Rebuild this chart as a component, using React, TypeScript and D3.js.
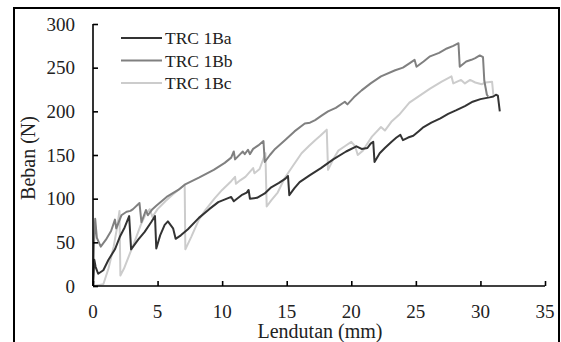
import React, { useRef, useEffect } from "react";
import * as d3 from "d3";

type Pt = [number, number];

// Lendutan (mm), Beban (N)
const trc1Ba: Pt[] = [
  [0, 0], [0.1, 30], [0.2, 22], [0.4, 14], [0.8, 18], [1.2, 30], [1.7, 42], [2.1, 57],
  [2.45, 67], [2.8, 80], [2.95, 42], [3.5, 53], [4.0, 62], [4.5, 73], [4.8, 80], [4.9, 43],
  [5.2, 58], [5.55, 70], [5.8, 74], [6.1, 68], [6.2, 66], [6.4, 54], [6.8, 58], [7.35, 65],
  [8.2, 78], [9.0, 88], [9.7, 96], [10.7, 102], [10.9, 97], [11.5, 104], [11.9, 107],
  [12.05, 110], [12.15, 100], [12.7, 101], [13.3, 106], [13.8, 113], [14.4, 118], [14.9, 123],
  [15.1, 126], [15.2, 104], [15.6, 112], [16.0, 119], [16.8, 127], [17.65, 135], [18.6, 145],
  [19.6, 154], [20.4, 160], [20.8, 157], [21.25, 158], [21.5, 163], [21.7, 165], [21.8, 142],
  [22.2, 152], [22.6, 158], [23.1, 165], [23.5, 170], [23.8, 173], [24.0, 167], [24.4, 170],
  [24.8, 172], [25.2, 177], [25.6, 182], [26.2, 187], [26.9, 192], [27.5, 197], [28.1, 201],
  [28.8, 206], [29.4, 211], [30.0, 214], [30.7, 216], [31.0, 217], [31.2, 219], [31.35, 218],
  [31.5, 200],
];

const trc1Bb: Pt[] = [
  [0, 0], [0.08, 50], [0.17, 77], [0.3, 55], [0.6, 45], [1.0, 53], [1.4, 63], [1.7, 76],
  [1.8, 66], [2.2, 81], [2.6, 85], [2.9, 86], [3.1, 88], [3.6, 95], [3.75, 73], [4.1, 87],
  [4.25, 81], [4.6, 88], [4.9, 92], [5.7, 102], [6.6, 110], [7.1, 116], [8.2, 124],
  [9.35, 133], [10.2, 141], [10.7, 147], [10.9, 154], [11.0, 145], [11.4, 151], [11.6, 154],
  [11.75, 151], [12.0, 156], [12.15, 151], [12.4, 157], [12.8, 161], [13.2, 166], [13.3, 142],
  [13.7, 150], [14.1, 157], [14.86, 167], [15.6, 177], [16.4, 186], [16.8, 187], [17.2, 190],
  [17.7, 195], [18.2, 200], [18.8, 204], [19.5, 211], [19.7, 208], [20.2, 216], [20.8, 224],
  [21.5, 232], [22.3, 240], [23.4, 247], [24.0, 250], [24.5, 255], [24.9, 259], [25.05, 251],
  [25.6, 257], [26.1, 263], [26.8, 267], [27.4, 272], [27.9, 275], [28.3, 278], [28.4, 251],
  [28.9, 257], [29.3, 259], [29.6, 261], [29.95, 264], [30.2, 262], [30.3, 235], [30.5, 219],
  [30.6, 217],
];

const trc1Bc: Pt[] = [
  [0, 0], [0.4, 1], [0.8, 2], [1.2, 20], [1.6, 45], [1.9, 70], [2.05, 86], [2.12, 12],
  [2.4, 20], [2.8, 35], [3.3, 54], [3.7, 70], [4.1, 83], [4.4, 88], [4.6, 79], [5.0, 88],
  [5.6, 97], [6.2, 105], [6.7, 111], [7.1, 116], [7.15, 42], [7.6, 56], [8.2, 76], [8.7, 87],
  [9.4, 100], [10.0, 110], [10.7, 120], [11.0, 125], [11.07, 117], [11.4, 121], [11.8, 125],
  [12.4, 135], [12.5, 129], [12.9, 134], [13.2, 146], [13.35, 152], [13.45, 91], [13.8, 98],
  [14.3, 107], [14.86, 124], [15.5, 138], [16.15, 152], [16.7, 160], [17.2, 167], [17.6, 172],
  [18.1, 179], [18.2, 133], [18.6, 145], [19.0, 155], [19.5, 160], [20.0, 165], [20.3, 160],
  [20.5, 150], [20.9, 155], [21.2, 162], [21.6, 171], [22.3, 182], [22.6, 178], [23.1, 188],
  [23.7, 196], [24.5, 210], [25.3, 218], [26.1, 226], [27.0, 234], [27.76, 240], [27.9, 232],
  [28.2, 234], [28.5, 236], [28.8, 232], [29.2, 236], [29.6, 233], [30.1, 231], [30.4, 233],
  [30.9, 234], [31.0, 219],
];

const seriesNames = ["TRC 1Ba", "TRC 1Bb", "TRC 1Bc"];
const seriesColors = ["#333333", "#808080", "#cccccc"];
const xTicks = [0, 5, 10, 15, 20, 25, 30, 35];
const yTicks = [0, 50, 100, 150, 200, 250, 300];

export default function App() {
  const svgRef = useRef<SVGSVGElement>(null);

  useEffect(() => {
    if (!svgRef.current) return;
    const svg = d3.select(svgRef.current);
    svg.selectAll("*").remove();

    const font = "'Liberation Serif', 'Times New Roman', serif";
    const xScale = d3.scaleLinear().domain([0, 35]).range([93, 545]);
    const yScale = d3.scaleLinear().domain([0, 300]).range([286, 24]);

    svg.append("rect")
      .attr("width", 561).attr("height", 342).attr("fill", "#ffffff");

    // picture frame
    svg.append("rect")
      .attr("x", 14).attr("y", 8)
      .attr("width", 545).attr("height", 360)
      .attr("fill", "none")
      .attr("stroke", "#000")
      .attr("stroke-width", 2);

    // series
    const line = d3.line<Pt>()
      .x(d => xScale(d[0]))
      .y(d => yScale(d[1]));

    [trc1Bc, trc1Bb, trc1Ba].forEach((data, i) => {
      const idx = 2 - i;
      svg.append("path")
        .datum(data)
        .attr("fill", "none")
        .attr("stroke", seriesColors[idx])
        .attr("stroke-width", 2)
        .attr("stroke-linejoin", "round")
        .attr("d", line);
    });

    // x axis, ticks inward
    const xAxis = d3.axisTop(xScale).tickValues(xTicks).tickSize(5).tickFormat(() => "");
    const xg = svg.append("g").attr("transform", `translate(0,${yScale(0)})`).call(xAxis);
    xg.select(".domain").attr("d", `M${xScale(0)},0H${xScale(35)}`);
    xg.selectAll("line, path").attr("stroke", "#000").attr("stroke-width", 1.6);

    xTicks.forEach(t => {
      svg.append("text")
        .attr("x", xScale(t))
        .attr("y", 318)
        .attr("text-anchor", "middle")
        .style("font-family", font)
        .style("font-size", "19px")
        .style("fill", "#222")
        .text(t);
    });

    // y axis, ticks inward
    const yAxis = d3.axisRight(yScale).tickValues(yTicks).tickSize(5).tickFormat(() => "");
    const yg = svg.append("g").attr("transform", `translate(${xScale(0)},0)`).call(yAxis);
    yg.select(".domain").attr("d", `M0,${yScale(300)}V${yScale(0)}`);
    yg.selectAll("line, path").attr("stroke", "#000").attr("stroke-width", 1.6);

    yTicks.forEach(t => {
      svg.append("text")
        .attr("x", 75)
        .attr("y", yScale(t) + 6.5)
        .attr("text-anchor", "end")
        .style("font-family", font)
        .style("font-size", "19px")
        .style("fill", "#222")
        .text(t);
    });

    // axis titles
    svg.append("text")
      .attr("x", 320)
      .attr("y", 338)
      .attr("text-anchor", "middle")
      .style("font-family", font)
      .style("font-size", "20px")
      .style("fill", "#222")
      .text("Lendutan (mm)");

    svg.append("text")
      .attr("transform", "translate(35,158) rotate(-90)")
      .attr("text-anchor", "middle")
      .style("font-family", font)
      .style("font-size", "20px")
      .style("fill", "#222")
      .text("Beban (N)");

    // legend
    seriesNames.forEach((name, i) => {
      const y = 38 + i * 22.5;
      svg.append("line")
        .attr("x1", 121).attr("x2", 162)
        .attr("y1", y).attr("y2", y)
        .attr("stroke", seriesColors[i])
        .attr("stroke-width", 2);
      svg.append("text")
        .attr("x", 165)
        .attr("y", y + 6)
        .style("font-family", font)
        .style("font-size", "17.5px")
        .style("fill", "#222")
        .text(name);
    });
  }, []);

  return (
    <svg
      ref={svgRef}
      width={561}
      height={342}
      style={{ position: "absolute", left: 0, top: 0, display: "block" }}
    />
  );
}
